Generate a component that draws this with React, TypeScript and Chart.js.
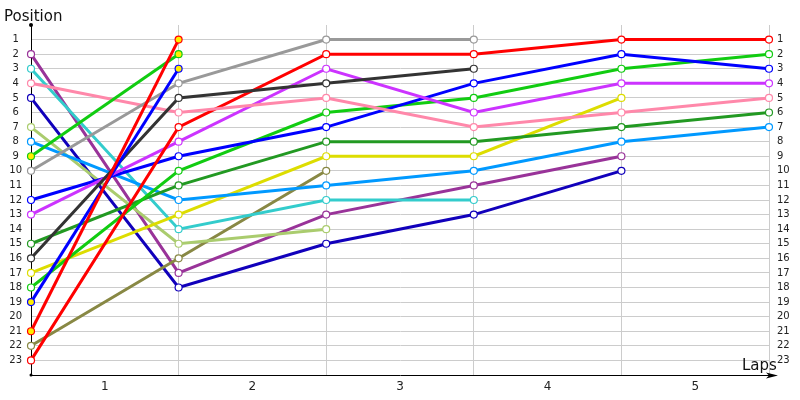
import React, { useEffect, useRef } from "react";
import { Chart, registerables } from "chart.js";

Chart.register(...registerables);

// ---- data ----
const laps = [0, 1, 2, 3, 4, 5];
const lapLabels = ["1", "2", "3", "4", "5"];
const positionTicks = [1, 2, 3, 4, 5, 6, 7, 8, 9, 10, 11, 12, 13, 14, 15, 16, 17, 18, 19, 20, 21, 22, 23];

const redA = [21, 1, null, null, null, null];
const greenA = [9, 2, null, null, null, null];
const blueA = [19, 3, null, null, null, null];
const gray = [10, 4, 1, 1, null, null];
const darkGray = [16, 5, 4, 3, null, null];
const pink = [4, 6, 5, 7, 6, 5];
const redB = [23, 7, 2, 2, 1, 1];
const violet = [13, 8, 3, 6, 4, 4];
const blueB = [12, 9, 7, 4, 2, 3];
const greenB = [18, 10, 6, 5, 3, 2];
const darkGreen = [15, 11, 8, 8, 7, 6];
const lightBlue = [8, 12, 11, 10, 8, 7];
const yellow = [17, 13, 9, 9, 5, null];
const cyan = [3, 14, 12, 12, null, null];
const lightOlive = [7, 15, 14, null, null, null];
const olive = [22, 16, 10, null, null, null];
const purple = [2, 17, 13, 11, 9, null];
const navy = [5, 18, 15, 13, 10, null];

const series: [number | null[] | any, string, string][] = [
  [redA, "#ff0000", "#ffee00"],
  [greenA, "#11cc11", "#ffee00"],
  [blueA, "#0000ff", "#ffee00"],
  [gray, "#999999", "#ffffff"],
  [darkGray, "#333333", "#ffffff"],
  [pink, "#ff88aa", "#ffffff"],
  [redB, "#ff0000", "#ffffff"],
  [violet, "#cc33ff", "#ffffff"],
  [blueB, "#0000ff", "#ffffff"],
  [greenB, "#11cc11", "#ffffff"],
  [darkGreen, "#229922", "#ffffff"],
  [lightBlue, "#0099ff", "#ffffff"],
  [yellow, "#dddd00", "#ffffff"],
  [cyan, "#33cccc", "#ffffff"],
  [lightOlive, "#aacc6e", "#ffffff"],
  [olive, "#888844", "#ffffff"],
  [purple, "#993399", "#ffffff"],
  [navy, "#1100bb", "#ffffff"],
];

const FONT = "'DejaVu Sans', sans-serif";

const decor = {
  id: "decor",
  afterDraw(chart: any) {
    const { ctx, chartArea } = chart;
    const { left, right, top, bottom } = chartArea;
    ctx.save();
    ctx.fillStyle = "#000";
    ctx.strokeStyle = "#000";
    ctx.lineWidth = 1;
    // extend x axis & arrow
    ctx.beginPath();
    ctx.moveTo(right, bottom + 0.5);
    ctx.lineTo(right + 4, bottom + 0.5);
    ctx.stroke();
    ctx.beginPath();
    ctx.moveTo(right + 9, bottom + 0.5);
    ctx.lineTo(right - 3, bottom - 2.5);
    ctx.lineTo(right, bottom + 0.5);
    ctx.lineTo(right - 3, bottom + 3.5);
    ctx.closePath();
    ctx.fill();
    // dots
    ctx.beginPath();
    ctx.arc(left, top, 2, 0, Math.PI * 2);
    ctx.fill();
    ctx.beginPath();
    ctx.arc(left, bottom, 1.5, 0, Math.PI * 2);
    ctx.fill();
    // titles
    ctx.font = `15px ${FONT}`;
    ctx.textAlign = "left";
    ctx.textBaseline = "alphabetic";
    ctx.fillStyle = "#111";
    ctx.fillText("Position", 4, 21);
    ctx.fillText("Laps", 742, 370);
    ctx.restore();
  },
};

export default function App() {
  const ref = useRef<HTMLCanvasElement>(null);
  useEffect(() => {
    if (!ref.current) return;
    const datasets = series.map(([vals, color, fill]) => ({
      data: laps.map((l, i) => ({ x: l, y: vals[i] })),
      borderColor: color,
      backgroundColor: fill,
      pointBackgroundColor: fill,
      pointBorderColor: color,
      pointRadius: 3.5,
      pointBorderWidth: 1.2,
      borderWidth: 3,
      tension: 0,
      clip: false as any,
      spanGaps: false,
      yAxisID: "y",
      xAxisID: "x",
    }));
    const chart = new Chart(ref.current, {
      type: "line",
      data: { datasets },
      plugins: [decor],
      options: {
        animation: false,
        responsive: true,
        maintainAspectRatio: false,
        layout: { padding: { top: 25, left: 0, right: 0, bottom: 0 } },
        plugins: { legend: { display: false }, tooltip: { enabled: false } },
        scales: {
          x: {
            type: "linear",
            position: "bottom",
            min: 0,
            max: 5,
            afterBuildTicks: (s: any) => {
              s.ticks = laps.slice(1).map((v) => ({ value: v }));
            },
            afterFit: (s: any) => {
              s.height = 0;
            },
            ticks: { display: false },
            grid: { color: "#cccccc", drawTicks: false },
            border: { display: false },
          },
          x2: {
            type: "linear",
            position: "bottom",
            min: 0,
            max: 5,
            afterBuildTicks: (s: any) => {
              s.ticks = lapLabels.map((_, i) => ({ value: i + 0.5 }));
            },
            afterFit: (s: any) => {
              s.height = 25;
            },
            ticks: {
              callback: (v: any) => lapLabels[Math.floor(v)],
              font: { family: FONT, size: 12 },
              color: "#222",
              padding: 5,
              maxRotation: 0,
              autoSkip: false,
            },
            grid: { display: false, drawTicks: false },
            border: { display: true, color: "#000", width: 1 },
          },
          y: {
            type: "linear",
            position: "left",
            min: 0,
            max: 24,
            reverse: true,
            afterBuildTicks: (s: any) => {
              s.ticks = positionTicks.map((v) => ({ value: v }));
            },
            afterFit: (s: any) => {
              s.width = 31;
            },
            ticks: {
              font: { family: FONT, size: 10 },
              color: "#222",
              padding: 9,
              crossAlign: "center",
              autoSkip: false,
            },
            grid: { color: "#cccccc", drawTicks: false },
            border: { display: true, color: "#000", width: 1 },
          },
          y2: {
            type: "linear",
            position: "right",
            min: 0,
            max: 24,
            reverse: true,
            afterBuildTicks: (s: any) => {
              s.ticks = positionTicks.map((v) => ({ value: v }));
            },
            afterFit: (s: any) => {
              s.width = 31;
            },
            ticks: {
              font: { family: FONT, size: 10 },
              color: "#222",
              padding: 8,
              autoSkip: false,
            },
            grid: { display: false, drawTicks: false },
            border: { display: false },
          },
        },
      },
    });
    return () => chart.destroy();
  }, []);
  return (
    <div style={{ position: "absolute", left: 0, top: 0, width: 800, height: 400 }}>
      <canvas ref={ref} />
    </div>
  );
}
